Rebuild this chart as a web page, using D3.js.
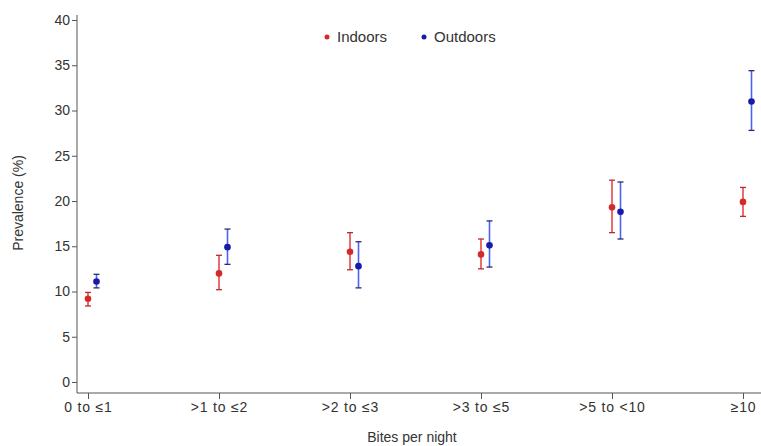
<!DOCTYPE html>
<html><head><meta charset="utf-8">
<script src="https://cdn.jsdelivr.net/npm/d3@7"></script>
<style>body{margin:0;background:#fff}svg{display:block}text{font-family:"Liberation Sans",Arial,sans-serif;fill:#333}</style>
</head><body><svg id="c" width="761" height="446"></svg>
<script>
const categories = ["0 to \u22641", ">1 to \u22642", ">2 to \u22643", ">3 to \u22645", ">5 to <10", "\u226510"];
const indoorsVal = [9.2, 12.0, 14.4, 14.1, 19.3, 19.9];
const indoorsLow = [8.4, 10.2, 12.4, 12.5, 16.5, 18.3];
const indoorsHigh = [9.9, 14.0, 16.5, 15.8, 22.3, 21.5];
const outdoorsVal = [11.1, 14.9, 12.8, 15.1, 18.8, 31.0];
const outdoorsLow = [10.4, 13.0, 10.4, 12.7, 15.8, 27.8];
const outdoorsHigh = [11.9, 16.9, 15.5, 17.8, 22.1, 34.4];
const yTicks = [0, 5, 10, 15, 20, 25, 30, 35, 40];

const svg = d3.select("#c");
const y = d3.scaleLinear().domain([0, 40]).range([382, 20]);
const x = d3.scalePoint().domain(categories).range([88, 743]);
const off = 8.5;

// axes
const yAx = svg.append("g").attr("transform", "translate(77,0)")
  .call(d3.axisLeft(y).tickValues(yTicks).tickSize(5).tickSizeOuter(0).tickPadding(2));
yAx.select(".domain").attr("d", "M0,15V393").attr("stroke", "#555");
yAx.selectAll(".tick line").attr("stroke", "#555");
yAx.selectAll(".tick text").attr("font-size", 14).attr("fill", "#444");

const xAx = svg.append("g").attr("transform", "translate(0,393)")
  .call(d3.axisBottom(x).tickSize(6).tickSizeOuter(0).tickPadding(3));
xAx.select(".domain").attr("d", "M77,0H761").attr("stroke", "#555");
xAx.selectAll(".tick line").attr("stroke", "#555");
xAx.selectAll(".tick text").attr("font-size", 14).attr("letter-spacing", 0.8).attr("fill", "#444");

svg.append("text").attr("transform", "translate(23,203) rotate(-90)")
  .attr("text-anchor", "middle").attr("font-size", 14).attr("fill", "#444").text("Prevalence (%)");
svg.append("text").attr("x", 412).attr("y", 442)
  .attr("text-anchor", "middle").attr("font-size", 14).attr("fill", "#444").text("Bites per night");

function series(vals, lows, highs, dx, barCol, capCol, ptCol) {
  const g = svg.append("g");
  const d = categories.map((c, i) => ({c, v: vals[i], lo: lows[i], hi: highs[i]}));
  g.selectAll("line.bar").data(d).join("line")
    .attr("x1", e => x(e.c) + dx).attr("x2", e => x(e.c) + dx)
    .attr("y1", e => y(e.lo)).attr("y2", e => y(e.hi))
    .attr("stroke", barCol).attr("stroke-width", 1.6);
  ["lo", "hi"].forEach(k => {
    g.selectAll("line.cap" + k).data(d).join("line")
      .attr("x1", e => x(e.c) + dx - 3).attr("x2", e => x(e.c) + dx + 3)
      .attr("y1", e => y(e[k])).attr("y2", e => y(e[k]))
      .attr("stroke", capCol).attr("stroke-width", 1.3);
  });
  g.selectAll("circle").data(d).join("circle")
    .attr("cx", e => x(e.c) + dx).attr("cy", e => y(e.v)).attr("r", 3.3)
    .attr("fill", ptCol);
}
series(indoorsVal, indoorsLow, indoorsHigh, 0, "#e8474a", "#b03030", "#d42a2a");
series(outdoorsVal, outdoorsLow, outdoorsHigh, off, "#4a63f0", "#2a2a70", "#1a1aa8");

// legend
const leg = svg.append("g");
leg.append("circle").attr("cx", 327).attr("cy", 37).attr("r", 2.5).attr("fill", "#d42a2a");
leg.append("text").attr("x", 337).attr("y", 42).attr("font-size", 15).attr("fill", "#444").text("Indoors");
leg.append("circle").attr("cx", 424).attr("cy", 37).attr("r", 2.5).attr("fill", "#1a1aa8");
leg.append("text").attr("x", 434).attr("y", 42).attr("font-size", 15).attr("fill", "#444").text("Outdoors");
</script></body></html>
